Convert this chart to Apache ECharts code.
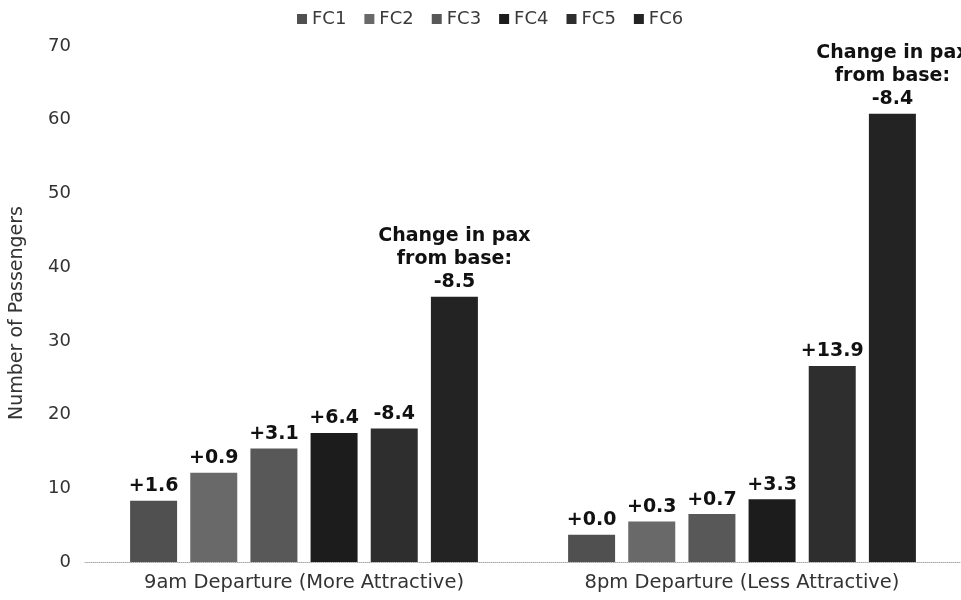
<!DOCTYPE html>
<html>
<head>
<meta charset="utf-8">
<script src="https://cdn.jsdelivr.net/npm/echarts@6/dist/echarts.min.js"></script>
<style>
  html, body { margin: 0; padding: 0; background: #fff; }
  #chart { width: 961px; height: 600px; }
</style>
</head>
<body>
<div id="chart"></div>
<script>
// Departure options on the category axis
const categories = ['9am Departure (More Attractive)', '8pm Departure (Less Attractive)'];
const fareClasses = ['FC1', 'FC2', 'FC3', 'FC4', 'FC5', 'FC6'];

// Passengers per fare class
const pax9am = [8.3, 12.1, 15.4, 17.5, 18.1, 36.0];
const pax8pm = [3.7, 5.5, 6.5, 8.5, 26.6, 60.8];

// Change in passengers from the base case
const change9am = ['+1.6', '+0.9', '+3.1', '+6.4', '-8.4', '-8.5'];
const change8pm = ['+0.0', '+0.3', '+0.7', '+3.3', '+13.9', '-8.4'];

const yTicks = [0, 10, 20, 30, 40, 50, 60, 70];

const fcColors = ['#505050', '#696969', '#585858', '#1c1c1c', '#2e2e2e', '#232323'];
const FONT = 'DejaVu Sans';

const changes = [change9am, change8pm];

const series = fareClasses.map((name, i) => ({
  name: name,
  type: 'bar',
  data: [pax9am[i], pax8pm[i]],
  barWidth: 47,
  barGap: '28%',
  itemStyle: { color: fcColors[i] },
  label: {
    show: true,
    position: 'top',
    distance: 3,
    color: '#111',
    fontFamily: FONT,
    fontWeight: 'bold',
    fontSize: 19,
    lineHeight: 23,
    formatter: (p) => {
      const c = changes[p.dataIndex][i];
      return i === fareClasses.length - 1 ? 'Change in pax\nfrom base:\n' + c : c;
    }
  }
}));

const chart = echarts.init(document.getElementById('chart'));
chart.setOption({
  animation: false,
  backgroundColor: '#fff',
  legend: {
    data: fareClasses,
    left: 292,
    top: 5,
    itemWidth: 10,
    itemHeight: 10,
    itemGap: 18,
    icon: 'rect',
    textStyle: { fontFamily: FONT, fontSize: 18, color: '#3a3a3a' }
  },
  grid: { left: 76.5, top: 46, width: 894, bottom: 38, containLabel: false },
  xAxis: {
    type: 'category',
    data: categories,
    axisTick: { show: false },
    axisLine: { lineStyle: { color: '#aaa', type: 'dotted', width: 1 } },
    axisLabel: { fontFamily: FONT, fontSize: 19.5, color: '#333', margin: 11 }
  },
  yAxis: {
    type: 'value',
    min: yTicks[0],
    max: yTicks[yTicks.length - 1],
    interval: 10,
    name: 'Number of Passengers',
    nameLocation: 'middle',
    nameGap: 58,
    nameTextStyle: { fontFamily: FONT, fontSize: 19, color: '#333', padding: [0, 18, 0, 0] },
    splitLine: { show: false },
    axisLine: { show: false },
    axisTick: { show: false },
    axisLabel: { fontFamily: FONT, fontSize: 18, color: '#333', margin: 14 }
  },
  series: series
});
</script>
</body>
</html>
